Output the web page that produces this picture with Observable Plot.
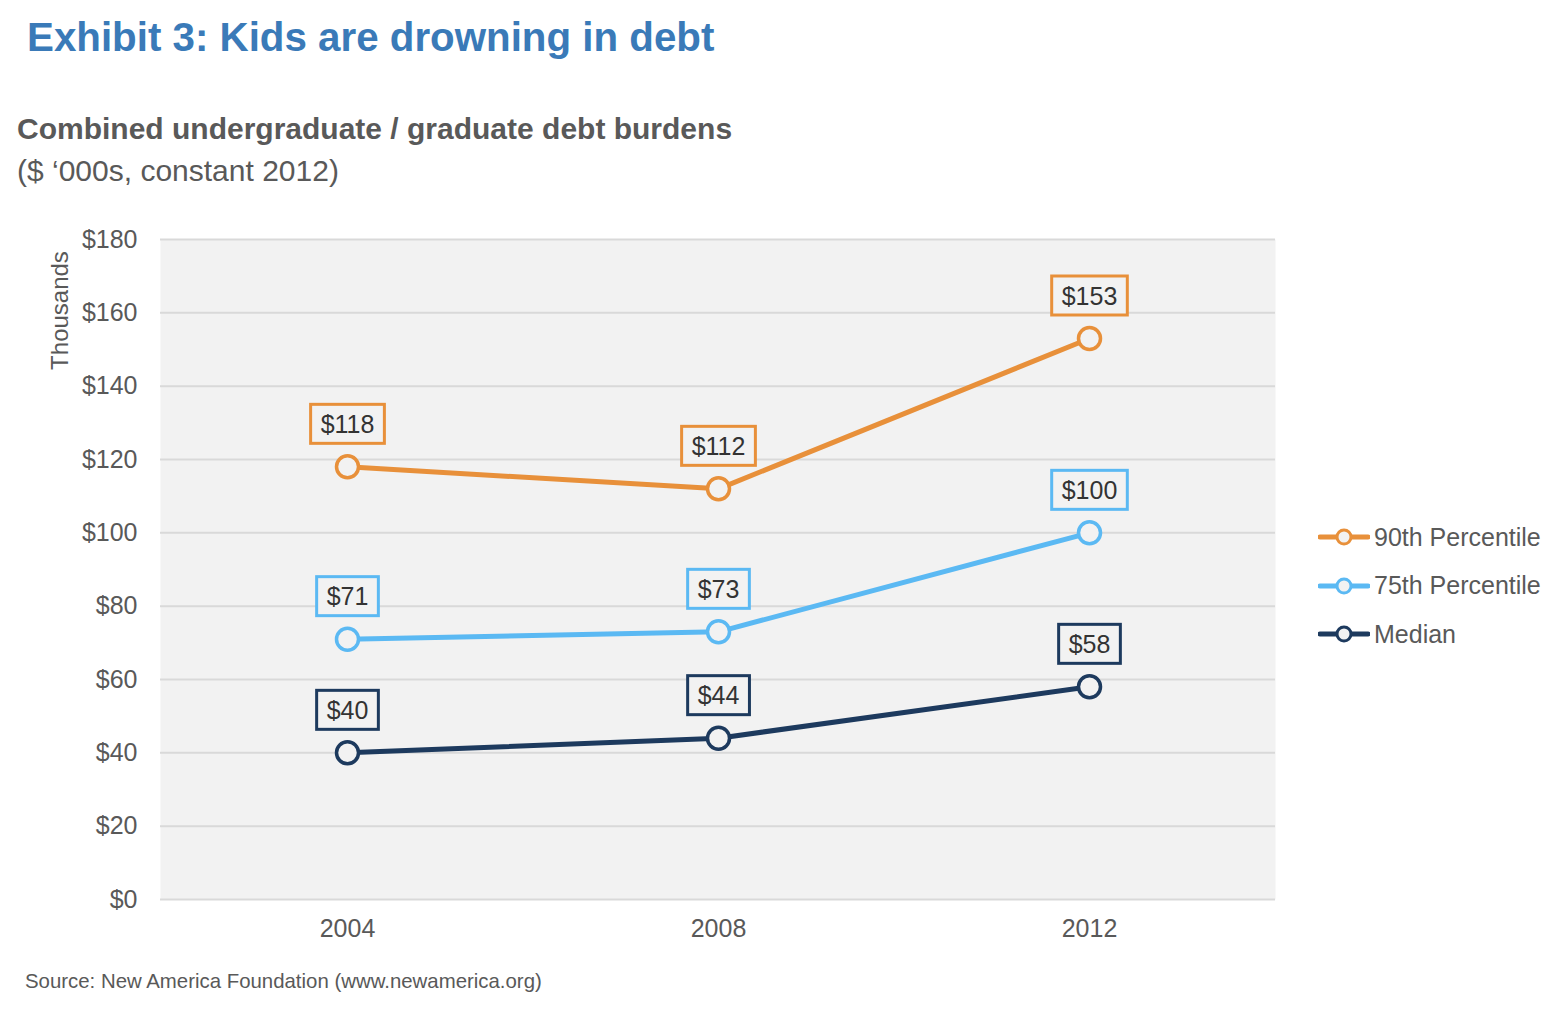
<!DOCTYPE html>
<html>
<head>
<meta charset="utf-8">
<script src="https://cdn.jsdelivr.net/npm/d3@7"></script>
<script src="https://cdn.jsdelivr.net/npm/@observablehq/plot@0.6"></script>
<style>
  html, body { margin: 0; padding: 0; background: #fff; }
  body { width: 1562px; height: 1018px; position: relative; overflow: hidden;
         font-family: "Liberation Sans", Arial, sans-serif; }
  .abs { position: absolute; line-height: 1; white-space: nowrap; }
  #title { left: 27px; top: 18px; font-size: 40.3px; font-weight: bold; color: #3a7ab8; }
  #sub1 { left: 17px; top: 114px; font-size: 30px; font-weight: bold; color: #595959; }
  #sub2 { left: 17px; top: 156px; font-size: 30px; color: #595959; }
  #chart { position: absolute; left: 0; top: 215px; }
  #source { left: 25px; top: 971px; font-size: 20.4px; color: #595959; }
  #legend { position: absolute; left: 1318px; top: 520px; }
  .item { display: flex; align-items: center; height: 34px; margin-bottom: 14.5px;
          font-size: 25px; color: #595959; }
  .item svg { margin-right: 4px; }
</style>
</head>
<body>
<div id="title" class="abs">Exhibit 3: Kids are drowning in debt</div>
<div id="sub1" class="abs">Combined undergraduate / graduate debt burdens</div>
<div id="sub2" class="abs">($ ‘000s, constant 2012)</div>
<div id="chart"></div>
<div id="legend"></div>
<div id="source" class="abs">Source: New America Foundation (www.newamerica.org)</div>
<script>
// Survey years and debt burdens ($ thousands, constant 2012)
const years = ["2004", "2008", "2012"];
const p90 = [118, 112, 153];
const p75 = [71, 73, 100];
const median = [40, 44, 58];

const seriesNames = ["90th Percentile", "75th Percentile", "Median"];
const seriesColors = ["#e8903a", "#5bb9f3", "#1d3a5e"];
const yTicks = [0, 20, 40, 60, 80, 100, 120, 140, 160, 180];

const bg = "#f2f2f2";
const seriesValues = [p90, p75, median];
const rows = seriesNames.flatMap((name, i) =>
  years.map((year, j) => ({series: name, year, value: seriesValues[i][j]}))
);

const colorScale = {domain: seriesNames, range: seriesColors};

const chart = Plot.plot({
  width: 1562,
  height: 740,
  marginTop: 24,
  marginBottom: 56,
  marginLeft: 160,
  marginRight: 287,
  style: {fontFamily: "Liberation Sans, Arial, sans-serif", fontSize: "25px", color: "#595959", background: "transparent"},
  x: {type: "point", domain: years, padding: 0.5, label: null, tickSize: 0, tickPadding: 20},
  y: {domain: [0, 180], ticks: yTicks, label: null, tickSize: 0, tickPadding: 23,
      tickFormat: d => "$" + d},
  color: colorScale,
  marks: [
    Plot.frame({fill: bg, stroke: null}),
    Plot.gridY(yTicks, {stroke: "#d9d9d9", strokeWidth: 2, strokeOpacity: 1}),
    Plot.axisY({ticks: yTicks, tickSize: 0, tickPadding: 23, tickFormat: d => "$" + d,
                label: null, fontSize: 25, fill: "#595959"}),
    Plot.axisX({tickSize: 0, tickPadding: 20, label: null, fontSize: 25, fill: "#595959"}),
    Plot.text(["Thousands"], {frameAnchor: "left", textAnchor: "middle", dx: -100, dy: -259,
                              rotate: -90, fontSize: 24, fill: "#595959"}),
    Plot.line(rows, {x: "year", y: "value", z: "series", stroke: "series", strokeWidth: 5}),
    Plot.dot(rows, {x: "year", y: "value", stroke: "series", fill: bg, r: 11, strokeWidth: 3.5}),
    Plot.text(rows, {x: "year", y: "value", text: d => "$" + d.value, dy: -42,
                     fontSize: 25, fill: "#333", className: "value-label"})
  ]
});

document.getElementById("chart").appendChild(chart);

// Outlined boxes behind the value labels
const labelGroup = chart.querySelector("g.value-label");
if (labelGroup) {
  const boxH = 39;
  labelGroup.querySelectorAll("text").forEach((t, i) => {
    const b = t.getBBox();
    const color = seriesColors[seriesNames.indexOf(rows[i].series)];
    const rect = document.createElementNS("http://www.w3.org/2000/svg", "rect");
    rect.setAttribute("x", b.x - 10);
    rect.setAttribute("y", b.y + b.height / 2 - boxH / 2);
    rect.setAttribute("width", b.width + 20);
    rect.setAttribute("height", boxH);
    rect.setAttribute("fill", bg);
    rect.setAttribute("stroke", color);
    rect.setAttribute("stroke-width", 3);
    const tr = t.getAttribute("transform");
    if (tr) rect.setAttribute("transform", tr);
    labelGroup.insertBefore(rect, t);
  });
}

// Legend: line-and-marker swatches
const legend = document.getElementById("legend");
seriesNames.forEach((name, i) => {
  const item = document.createElement("div");
  item.className = "item";
  item.innerHTML =
    `<svg width="52" height="20"><line x1="2" y1="10" x2="50" y2="10" stroke="${seriesColors[i]}" stroke-width="5" stroke-linecap="round"/>` +
    `<circle cx="26" cy="10" r="7" fill="#f2f2f2" stroke="${seriesColors[i]}" stroke-width="3"/></svg>` +
    `<span>${name}</span>`;
  legend.appendChild(item);
});
</script>
</body>
</html>
